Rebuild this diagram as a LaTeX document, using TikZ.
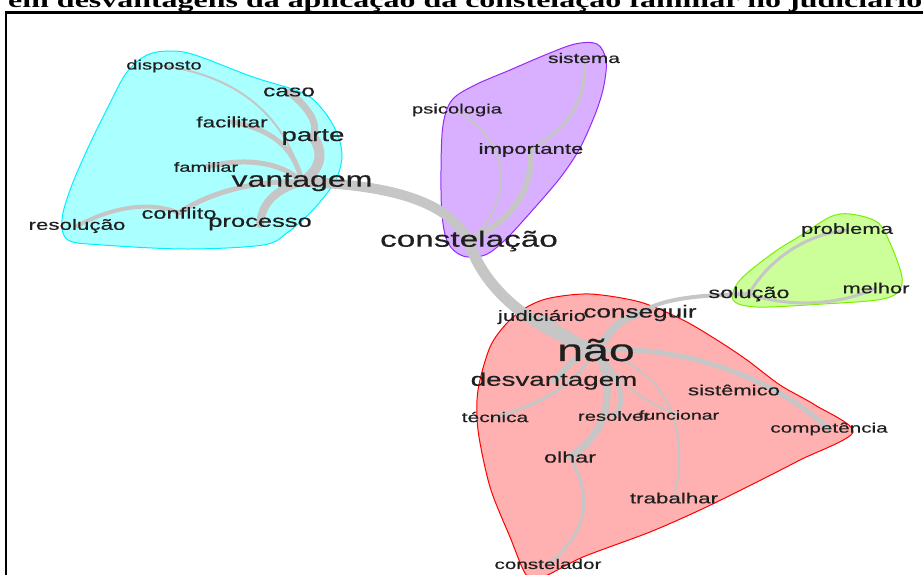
\documentclass[tikz,border=0pt]{standalone}
\usepackage{fontspec}
\setmainfont{Liberation Sans}
\newfontfamily\wordfont[FakeBold=0.4]{Liberation Sans}
\newfontfamily\titlefont{Liberation Serif}
\usepackage{graphicx}
\pgfdeclarelayer{hull}
\pgfdeclarelayer{edges}
\pgfsetlayers{hull,edges,main}
\definecolor{cyanfill}{RGB}{170,255,255}
\definecolor{cyanline}{RGB}{0,240,255}
\definecolor{purpfill}{RGB}{216,176,255}
\definecolor{purpline}{RGB}{150,40,255}
\definecolor{greenfill}{RGB}{204,255,153}
\definecolor{greenline}{RGB}{120,240,0}
\definecolor{redfill}{RGB}{255,176,176}
\definecolor{redline}{RGB}{255,0,0}
\definecolor{edgegray}{RGB}{198,198,198}
\newcommand\wlbl[2]{\scalebox{1.5}[1]{\wordfont\fontsize{#1pt}{#1pt}\selectfont #2}}
\tikzset{
  word/.style={inner sep=0pt, text=black!88},
  edge/.style={draw=edgegray, line cap=round},
  hullshape/.style={line width=1pt}
}
\begin{document}
\begin{tikzpicture}[x=1pt,y=-1pt]
\useasboundingbox (0,0) rectangle (923,574);
\clip (0,0) rectangle (923,574);

% title (cut off at the top) and frame
\node[anchor=base west, inner sep=0pt] (title) at (8,7.5)
  {\scalebox{1.5}[1]{\titlefont\bfseries\fontsize{21.3pt}{21.3pt}\selectfont em desvantagens da aplicação da constelação familiar no judiciário}};
\draw[line width=2.6pt] (6,590) -- (6,12.5) -- (930,12.5);

% words
\node[word] (disposto) at (164,66) {\wlbl{13.5}{disposto}};
\node[word] (caso) at (289,92) {\wlbl{16.4}{caso}};
\node[word] (facilitar) at (232,122) {\wlbl{15}{facilitar}};
\node[word] (parte) at (313,137) {\wlbl{18.4}{parte}};
\node[word] (familiar) at (206,167) {\wlbl{13.3}{familiar}};
\node[word] (vantagem) at (302,182) {\wlbl{21.4}{vantagem}};
\node[word] (conflito) at (179,213) {\wlbl{15.8}{conflito}};
\node[word] (processo) at (260,224) {\wlbl{17}{processo}};
\node[word] (resolucao) at (77,226) {\wlbl{14.9}{resolução}};
\node[word] (sistema) at (584,58) {\wlbl{13.9}{sistema}};
\node[word] (psicologia) at (457,110) {\wlbl{13.5}{psicologia}};
\node[word] (importante) at (531,150) {\wlbl{14.8}{importante}};
\node[word] (constelacao) at (469,241) {\wlbl{22.2}{constelação}};
\node[word] (problema) at (847,230) {\wlbl{14.7}{problema}};
\node[word] (melhor) at (876,288) {\wlbl{14.6}{melhor}};
\node[word] (solucao) at (749,294) {\wlbl{15.7}{solução}};
\node[word] (judiciario) at (542,317) {\wlbl{14.9}{judiciário}};
\node[word] (conseguir) at (640,313) {\wlbl{17.4}{conseguir}};
\node[word] (nao) at (596,350) {\wlbl{31}{não}};
\node[word] (desvantagem) at (554,381) {\wlbl{18.5}{desvantagem}};
\node[word] (sistemico) at (734,390) {\wlbl{14.7}{sistêmico}};
\node[word] (tecnica) at (495,417) {\wlbl{14}{técnica}};
\node[word] (resolver) at (614,416) {\wlbl{13.5}{resolver}};
\node[word] (funcionar) at (679,415) {\wlbl{13}{funcionar}};
\node[word] (competencia) at (829,429) {\wlbl{13.8}{competência}};
\node[word] (olhar) at (570,457) {\wlbl{15.6}{olhar}};
\node[word] (trabalhar) at (674,498) {\wlbl{14.9}{trabalhar}};
\node[word] (constelador) at (548,564) {\wlbl{13.8}{constelador}};

% hulls
\begin{pgfonlayer}{hull}
\filldraw[hullshape, fill=cyanfill, draw=cyanline] plot[smooth cycle, tension=0.55] coordinates {
 (147,55) (170,51) (195,55) (253,77) (303,93) (323,110) (337,133) (342,155) (338,175)
 (328,192) (310,213) (287,233) (263,245) (187,249) (103,245) (68,240) (62,220) (70,190)
 (87,150) (110,103) (127,72)};
\filldraw[hullshape, fill=purpfill, draw=purpline] plot[smooth cycle, tension=0.55] coordinates {
 (597,44) (606,60) (604,85) (596,112) (580,148) (560,178) (530,213) (505,240) (485,255)
 (463,256) (448,243) (442,215) (441,170) (443,125) (452,100) (475,85) (510,70) (545,55) (575,44)};
\filldraw[hullshape, fill=greenfill, draw=greenline] plot[smooth cycle, tension=0.55] coordinates {
 (850,214) (877,222) (890,243) (902,277) (897,293) (877,300) (823,304) (757,307) (733,300)
 (740,280) (773,253) (800,236) (830,217)};
\filldraw[hullshape, fill=redfill, draw=redline] plot[smooth cycle, tension=0.5] coordinates {
 (527,307) (550,298) (590,294) (640,302) (683,320) (717,340) (747,360) (780,385) (815,405)
 (853,432) (800,460) (747,487) (700,510) (650,532) (583,557) (545,576) (527,576) (510,537)
 (490,487) (478,430) (478,390) (490,347) (507,323)};
\end{pgfonlayer}

% edges
\begin{pgfonlayer}{edges}
\draw[edge, line width=7pt] (caso.center) .. controls (305,105) and (320,122) .. (parte.center);
\draw[edge, line width=10pt] (parte.center) .. controls (326,155) and (318,172) .. (vantagem.center);
\draw[edge, line width=2pt] (disposto.center) .. controls (230,75) and (285,110) .. (vantagem.center);
\draw[edge, line width=5pt] (facilitar.center) .. controls (275,130) and (295,150) .. (vantagem.center);
\draw[edge, line width=5pt] (familiar.center) .. controls (240,158) and (280,160) .. (vantagem.center);
\draw[edge, line width=5pt] (conflito.center) .. controls (205,195) and (250,180) .. (vantagem.center);
\draw[edge, line width=4pt] (resolucao.center) .. controls (110,208) and (150,200) .. (conflito.center);
\draw[edge, line width=8pt] (processo.center) .. controls (262,200) and (280,188) .. (vantagem.center);
\draw[edge, line width=10pt] (vantagem.center) .. controls (400,185) and (450,205) .. (constelacao.center);
\draw[edge, line width=11pt] (constelacao.center) .. controls (480,280) and (520,325) .. (nao.center);
\draw[edge, line width=6pt] (judiciario.center) .. controls (560,330) .. (nao.center);
\draw[edge, line width=6pt] (importante.center) .. controls (532,195) and (510,220) .. (constelacao.center);
\draw[edge, line width=3pt] (sistema.center) .. controls (588,110) and (560,130) .. (importante.center);
\draw[edge, line width=2pt] (psicologia.center) .. controls (515,145) and (512,205) .. (constelacao.center);
\draw[edge, line width=4pt] (conseguir.center) .. controls (660,300) and (690,295) .. (solucao.center);
\draw[edge, line width=3pt] (solucao.center) .. controls (765,265) and (800,235) .. (problema.center);
\draw[edge, line width=3pt] (solucao.center) .. controls (790,308) and (840,305) .. (melhor.center);
\draw[edge, line width=8pt] (conseguir.center) .. controls (620,320) .. (nao.center);
\draw[edge, line width=5pt] (nao.center) .. controls (680,345) and (770,375) .. (competencia.center);
\draw[edge, line width=6pt] (nao.center) .. controls (575,358) .. (desvantagem.center);
\draw[edge, line width=3pt] (nao.center) .. controls (575,385) and (540,405) .. (tecnica.center);
\draw[edge, line width=7pt] (nao.center) .. controls (615,385) and (612,430) .. (olhar.center);
\draw[edge, line width=3pt] (olhar.center) .. controls (595,500) and (585,535) .. (constelador.center);
\draw[edge, line width=5pt] (nao.center) .. controls (620,380) and (628,400) .. (resolver.center);
\draw[edge, line width=2pt] (nao.center) .. controls (625,390) and (650,405) .. (funcionar.center);
\draw[edge, line width=2pt] (nao.center) .. controls (670,370) and (690,430) .. (trabalhar.center);
\end{pgfonlayer}
\end{tikzpicture}
\end{document}
